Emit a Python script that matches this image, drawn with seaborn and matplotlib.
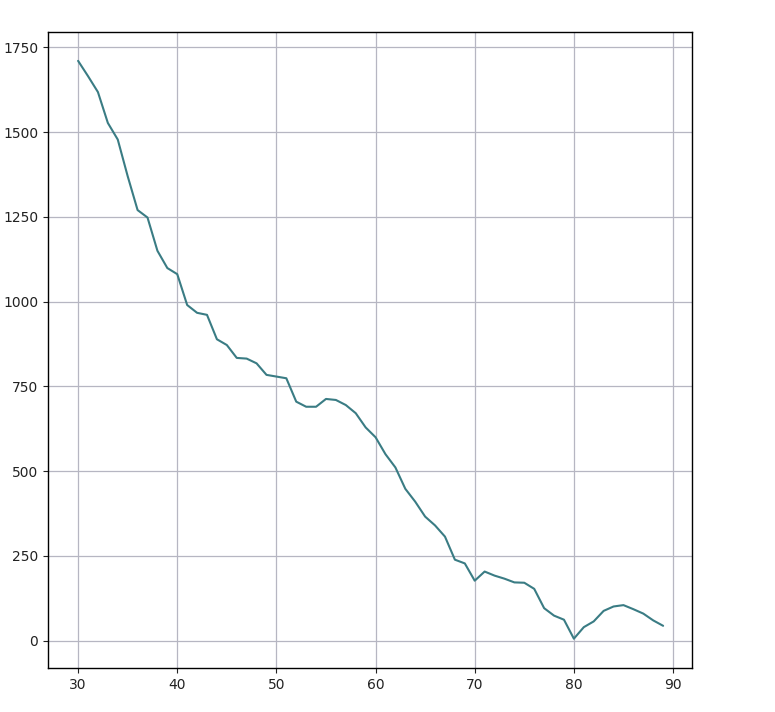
import numpy as np
import pandas as pd
import matplotlib
matplotlib.use("Agg")
import matplotlib.pyplot as plt
import seaborn as sns

# valores
idade = list(range(30, 90))
contagem = [1710, 1665, 1618, 1527, 1478, 1370, 1270, 1248, 1150, 1099,
            1081, 990, 967, 961, 889, 872, 834, 832, 818, 784,
            779, 774, 705, 690, 690, 713, 710, 695, 671, 629,
            600, 550, 511, 448, 410, 366, 340, 307, 239, 228,
            177, 204, 192, 183, 172, 171, 153, 96, 74, 62,
            6, 40, 57, 88, 101, 105, 93, 80, 60, 44]

df = pd.DataFrame({"idade": idade, "contagem": contagem})

sns.set_style("ticks")
fig, ax = plt.subplots(figsize=(7.75, 7.12), dpi=100)
fig.subplots_adjust(left=0.062, right=0.893, top=0.955, bottom=0.062)

sns.lineplot(data=df, x="idade", y="contagem", color="#3a7c84", linewidth=1.5, ax=ax)

ax.set_xlim(26.97, 91.92)
ax.set_ylim(-80, 1795)
ax.set_yticks([0, 250, 500, 750, 1000, 1250, 1500, 1750])
ax.set_xticks([30, 40, 50, 60, 70, 80, 90])
ax.grid(True, color="#b6b6c2", linewidth=0.9)
ax.set_axisbelow(True)
for s in ax.spines.values():
    s.set_color("black")
    s.set_linewidth(1.0)
ax.tick_params(labelsize=10, colors="#222222")
ax.set_xlabel("")
ax.set_ylabel("")

plt.savefig("out.png", dpi=100)
